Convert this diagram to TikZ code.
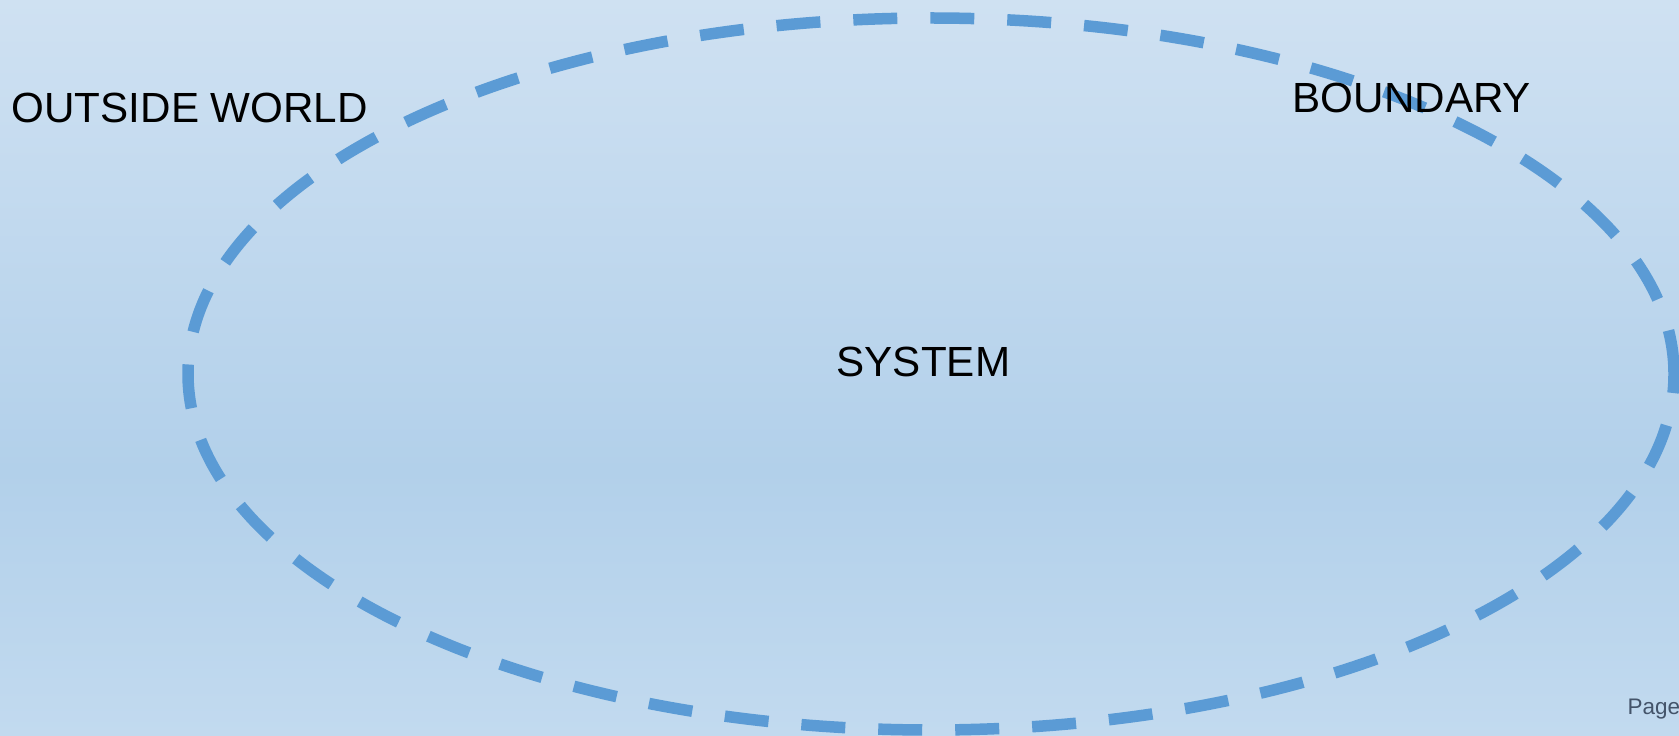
\documentclass[tikz,border=0pt]{standalone}
\usepackage{fontspec}
\setmainfont{Liberation Sans}
\usetikzlibrary{positioning}
\definecolor{bgtop}{HTML}{CFE1F2}
\definecolor{bgmid}{HTML}{B2D0EA}
\definecolor{bgbot}{HTML}{C2DAEF}
\definecolor{rim}{HTML}{5B9BD5}
\definecolor{pagegray}{HTML}{44546A}
\pgfdeclareverticalshading{bgfade}{100bp}{color(0bp)=(bgbot); color(25bp)=(bgbot); color(43bp)=(bgmid); color(75bp)=(bgtop); color(100bp)=(bgtop)}
\begin{document}
\begin{tikzpicture}[
  x=0.1mm,y=0.1mm,
  font=\fontsize{12}{14}\selectfont,
  lbl/.style={anchor=base west, inner sep=0pt, text=black},
  rimline/.style={draw=rim, line width=1.15mm, dash pattern=on 4.4mm off 3.3mm},
  pagenum/.style={anchor=base west, inner sep=0pt, text=pagegray, font=\fontsize{6.4}{7}\selectfont}
]
  \useasboundingbox (0,0) rectangle (1679,735);
  \shade[shading=bgfade] (0,0) rectangle (1679,735);

  \coordinate (sysc) at (931,361);
  \draw[rimline] (sysc) ellipse [x radius=743, y radius=356];

  \node[lbl] (outside) at (11,612) {OUTSIDE WORLD};
  \node[lbl] (boundary) at (1292,622) {BOUNDARY};
  \node[lbl] (system) at (836,359) {SYSTEM};
  \node[pagenum] (page) at (1627,21) {Page};
\end{tikzpicture}
\end{document}
